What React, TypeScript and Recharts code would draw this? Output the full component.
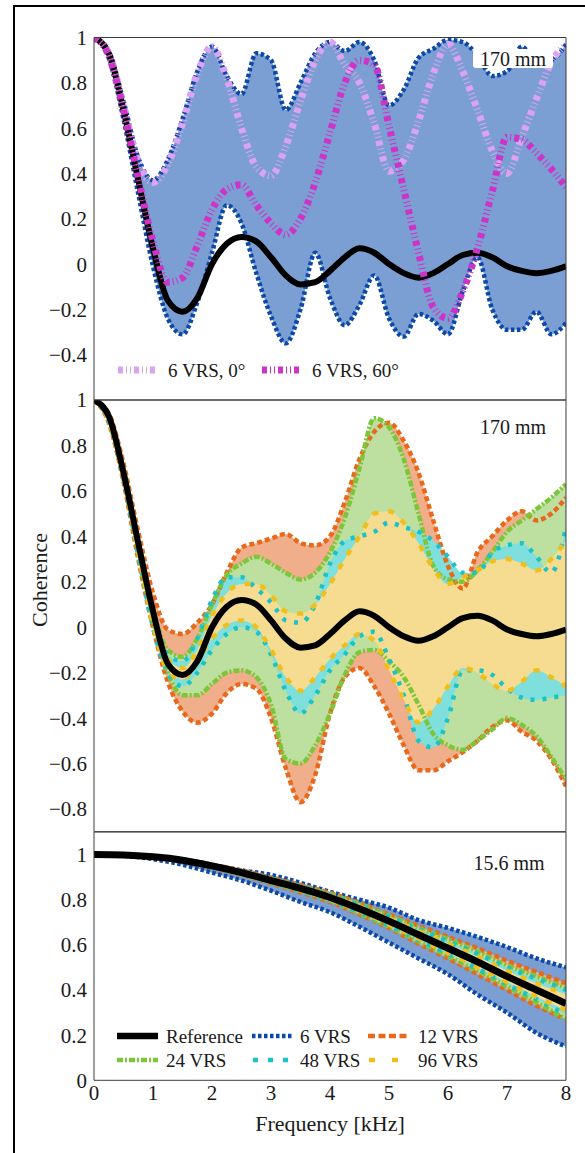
import React from 'react';
import { ComposedChart, Area, Line, XAxis, YAxis } from 'recharts';

// frequency grid (kHz) for the 170 mm panels
const freq = [0, 0.25, 0.5, 0.75, 1, 1.25, 1.5, 1.75, 2, 2.25, 2.5, 2.75, 3, 3.25, 3.5, 3.75, 4, 4.25, 4.5, 4.75, 5, 5.25, 5.5, 5.75, 6, 6.25, 6.5, 6.75, 7, 7.25, 7.5, 7.75, 8];

// 170 mm: reference coherence
const reference = [1.0, 0.93, 0.68, 0.37, 0.07, -0.16, -0.21, -0.15, 0.0, 0.09, 0.12, 0.1, 0.03, -0.05, -0.09, -0.08, -0.03, 0.03, 0.07, 0.05, 0.0, -0.04, -0.06, -0.04, 0.0, 0.04, 0.05, 0.03, -0.01, -0.03, -0.04, -0.03, -0.01];

// top panel: 6 VRS envelope and two orientations
const vrs6Hi = [1.0, 0.94, 0.72, 0.47, 0.37, 0.46, 0.64, 0.85, 0.96, 0.83, 0.75, 0.93, 0.9, 0.68, 0.8, 0.93, 0.98, 0.94, 0.98, 0.9, 0.7, 0.77, 0.91, 0.95, 0.99, 0.98, 0.92, 0.83, 0.85, 0.96, 0.89, 0.9, 0.97];
const vrs6Lo = [1.0, 0.91, 0.64, 0.31, -0.01, -0.24, -0.31, -0.17, 0.05, 0.26, 0.18, -0.04, -0.23, -0.35, -0.2, 0.05, -0.15, -0.27, -0.18, -0.05, -0.24, -0.32, -0.22, -0.25, -0.31, -0.12, 0.03, -0.2, -0.29, -0.29, -0.21, -0.31, -0.26];
const vrs6Deg0 = [1.0, 0.93, 0.7, 0.45, 0.36, 0.44, 0.62, 0.84, 0.96, 0.82, 0.6, 0.43, 0.39, 0.52, 0.72, 0.9, 0.98, 0.88, 0.8, 0.62, 0.41, 0.46, 0.63, 0.84, 0.97, 0.85, 0.68, 0.5, 0.4, 0.56, 0.73, 0.89, 0.97];
const vrs6Deg60 = [1.0, 0.92, 0.68, 0.38, 0.1, -0.08, -0.06, 0.08, 0.24, 0.33, 0.35, 0.26, 0.18, 0.13, 0.2, 0.36, 0.58, 0.8, 0.9, 0.88, 0.61, 0.33, 0.05, -0.19, -0.24, -0.12, 0.07, 0.32, 0.56, 0.55, 0.49, 0.42, 0.34];

// middle panel: envelopes for 12/24/48/96 VRS
const vrs12Hi = [1.0, 0.94, 0.72, 0.42, 0.15, -0.01, -0.03, 0.02, 0.1, 0.24, 0.35, 0.37, 0.39, 0.41, 0.37, 0.36, 0.4, 0.55, 0.74, 0.86, 0.9, 0.82, 0.68, 0.47, 0.27, 0.17, 0.33, 0.4, 0.47, 0.51, 0.47, 0.5, 0.57];
const vrs12Lo = [1.0, 0.9, 0.64, 0.3, 0.0, -0.24, -0.37, -0.42, -0.38, -0.29, -0.25, -0.27, -0.4, -0.62, -0.77, -0.65, -0.38, -0.22, -0.18, -0.26, -0.38, -0.52, -0.63, -0.63, -0.59, -0.55, -0.5, -0.44, -0.41, -0.46, -0.5, -0.58, -0.7];
const vrs24Hi = [1.0, 0.93, 0.7, 0.38, 0.08, -0.1, -0.13, -0.05, 0.1, 0.23, 0.28, 0.31, 0.28, 0.24, 0.21, 0.24, 0.33, 0.48, 0.7, 0.92, 0.88, 0.74, 0.5, 0.27, 0.21, 0.2, 0.25, 0.33, 0.42, 0.47, 0.52, 0.57, 0.63];
const vrs24Lo = [1.0, 0.91, 0.66, 0.32, 0.02, -0.2, -0.3, -0.3, -0.25, -0.2, -0.19, -0.22, -0.34, -0.58, -0.6, -0.52, -0.38, -0.21, -0.11, -0.1, -0.15, -0.22, -0.34, -0.47, -0.52, -0.54, -0.5, -0.45, -0.4, -0.43, -0.48, -0.57, -0.67];
const vrs48Hi = [1.0, 0.93, 0.69, 0.38, 0.06, -0.12, -0.15, -0.05, 0.12, 0.22, 0.22, 0.17, 0.11, 0.03, 0.02, 0.1, 0.28, 0.38, 0.4, 0.42, 0.46, 0.44, 0.42, 0.38, 0.31, 0.24, 0.24, 0.33, 0.36, 0.37, 0.31, 0.24, 0.44];
const vrs48Lo = [1.0, 0.91, 0.65, 0.32, 0.0, -0.2, -0.26, -0.2, -0.1, -0.03, 0.0, -0.02, -0.12, -0.28, -0.38, -0.3, -0.19, -0.12, -0.04, -0.02, -0.14, -0.3, -0.5, -0.53, -0.4, -0.19, -0.19, -0.21, -0.27, -0.31, -0.32, -0.31, -0.3];
const vrs96Hi = [1.0, 0.93, 0.68, 0.36, 0.05, -0.14, -0.18, -0.1, 0.05, 0.15, 0.19, 0.19, 0.14, 0.07, 0.06, 0.1, 0.19, 0.3, 0.4, 0.5, 0.51, 0.46, 0.37, 0.26, 0.19, 0.22, 0.25, 0.29, 0.3, 0.28, 0.25, 0.3, 0.38];
const vrs96Lo = [1.0, 0.91, 0.66, 0.33, 0.01, -0.19, -0.23, -0.15, -0.05, 0.01, 0.03, 0.0, -0.1, -0.22, -0.28, -0.22, -0.14, -0.08, -0.03, -0.06, -0.19, -0.32, -0.42, -0.36, -0.26, -0.18, -0.2, -0.25, -0.28, -0.24, -0.19, -0.22, -0.26];

// bottom panel (15.6 mm)
const freq3 = [0, 0.5, 1, 1.5, 2, 2.5, 3, 3.5, 4, 4.5, 5, 5.5, 6, 6.5, 7, 7.5, 8];
const reference3 = [1.0, 0.998, 0.99, 0.975, 0.95, 0.92, 0.885, 0.85, 0.81, 0.76, 0.705, 0.645, 0.585, 0.525, 0.46, 0.4, 0.34];
const vrs6Hi3 = [1.0, 0.998, 0.99, 0.978, 0.955, 0.93, 0.91, 0.875, 0.835, 0.8, 0.765, 0.71, 0.675, 0.635, 0.59, 0.54, 0.5];
const vrs6Lo3 = [1.0, 0.995, 0.98, 0.955, 0.92, 0.885, 0.84, 0.79, 0.745, 0.68, 0.61, 0.54, 0.47, 0.38, 0.3, 0.21, 0.15];
const vrs12Hi3 = [1.0, 0.998, 0.99, 0.978, 0.955, 0.93, 0.897, 0.865, 0.83, 0.785, 0.735, 0.685, 0.635, 0.585, 0.53, 0.48, 0.43];
const vrs12Lo3 = [1.0, 0.997, 0.988, 0.97, 0.943, 0.91, 0.872, 0.833, 0.79, 0.735, 0.675, 0.605, 0.54, 0.47, 0.4, 0.33, 0.27];
const vrs24Hi3 = [1.0, 0.998, 0.99, 0.977, 0.953, 0.927, 0.893, 0.86, 0.825, 0.78, 0.73, 0.675, 0.625, 0.57, 0.51, 0.46, 0.41];
const vrs24Lo3 = [1.0, 0.997, 0.988, 0.971, 0.945, 0.912, 0.875, 0.838, 0.795, 0.74, 0.68, 0.615, 0.55, 0.485, 0.415, 0.345, 0.27];
const vrs48Hi3 = [1.0, 0.998, 0.99, 0.977, 0.952, 0.925, 0.892, 0.858, 0.82, 0.775, 0.725, 0.67, 0.615, 0.56, 0.5, 0.45, 0.4];
const vrs48Lo3 = [1.0, 0.997, 0.988, 0.972, 0.946, 0.914, 0.877, 0.84, 0.798, 0.745, 0.685, 0.622, 0.56, 0.495, 0.425, 0.36, 0.29];
const vrs96Hi3 = [1.0, 0.998, 0.99, 0.976, 0.952, 0.923, 0.89, 0.855, 0.817, 0.77, 0.718, 0.662, 0.605, 0.548, 0.485, 0.43, 0.38];
const vrs96Lo3 = [1.0, 0.997, 0.989, 0.973, 0.947, 0.916, 0.88, 0.843, 0.802, 0.75, 0.69, 0.628, 0.565, 0.5, 0.435, 0.37, 0.31];

// ticks
const xMinor = [0, 0.5, 1, 1.5, 2, 2.5, 3, 3.5, 4, 4.5, 5, 5.5, 6, 6.5, 7, 7.5, 8];
const xLabels = [0, 1, 2, 3, 4, 5, 6, 7, 8];
const yMinor1 = [-0.6, -0.5, -0.4, -0.3, -0.2, -0.1, 0, 0.1, 0.2, 0.3, 0.4, 0.5, 0.6, 0.7, 0.8, 0.9, 1];
const yLabels1 = [-0.4, -0.2, 0, 0.2, 0.4, 0.6, 0.8, 1];
const yMinor2 = [-0.9, -0.8, -0.7, -0.6, -0.5, -0.4, -0.3, -0.2, -0.1, 0, 0.1, 0.2, 0.3, 0.4, 0.5, 0.6, 0.7, 0.8, 0.9, 1];
const yLabels2 = [-0.8, -0.6, -0.4, -0.2, 0, 0.2, 0.4, 0.6, 0.8, 1];
const yMinor3 = [0, 0.1, 0.2, 0.3, 0.4, 0.5, 0.6, 0.7, 0.8, 0.9, 1, 1.1];
const yLabels3 = [0, 0.2, 0.4, 0.6, 0.8, 1];

const FONT = 'Liberation Serif, Times New Roman, serif';
const TXT = '#1a1a1a';
const AX = '#3c3c3c';

const C = {
  blue: '#0b48a8', blueFill: '#7b9fd2',
  violet: '#dea2f2', magenta: '#cf32c8',
  orange: '#e8691c', orangeFill: '#f0af8a',
  green: '#7cc63a', greenFill: '#bde0a0',
  cyan: '#19c3c7', cyanFill: '#7edfdc',
  yellow: '#f0bf1e', yellowFill: '#f6dc90',
};

const DASH = {
  vrs6: '3.5 2.5', vrs12: '5 3', vrs24: '6 2 2 2', vrs48: '4 8', vrs96: '6 10', angle: '5 3 1 3 1 3',
};

const rows1 = freq.map((f, i) => ({
  f, ref: reference[i], b6: [vrs6Lo[i], vrs6Hi[i]], hi6: vrs6Hi[i], lo6: vrs6Lo[i], d0: vrs6Deg0[i], d60: vrs6Deg60[i],
}));

const rows2 = freq.map((f, i) => ({
  f, ref: reference[i],
  b12: [vrs12Lo[i], vrs12Hi[i]], hi12: vrs12Hi[i], lo12: vrs12Lo[i],
  b24: [vrs24Lo[i], vrs24Hi[i]], hi24: vrs24Hi[i], lo24: vrs24Lo[i],
  b48: [vrs48Lo[i], vrs48Hi[i]], hi48: vrs48Hi[i], lo48: vrs48Lo[i],
  b96: [vrs96Lo[i], vrs96Hi[i]], hi96: vrs96Hi[i], lo96: vrs96Lo[i],
}));

const rows3 = freq3.map((f, i) => ({
  f, ref: reference3[i],
  b6: [vrs6Lo3[i], vrs6Hi3[i]], hi6: vrs6Hi3[i], lo6: vrs6Lo3[i],
  b12: [vrs12Lo3[i], vrs12Hi3[i]], hi12: vrs12Hi3[i], lo12: vrs12Lo3[i],
  b24: [vrs24Lo3[i], vrs24Hi3[i]], hi24: vrs24Hi3[i], lo24: vrs24Lo3[i],
  b48: [vrs48Lo3[i], vrs48Hi3[i]], hi48: vrs48Hi3[i], lo48: vrs48Lo3[i],
  b96: [vrs96Lo3[i], vrs96Hi3[i]], hi96: vrs96Hi3[i], lo96: vrs96Lo3[i],
}));

const fmtY = (v: number) => (v === 0 ? '0' : v === 1 ? '1' : v.toFixed(1).replace('-', '\u2212'));

const band = (key: string, fill: string) => (
  <Area key={key} dataKey={key} xAxisId="x" yAxisId="y" type="monotone" stroke="none" fill={fill} fillOpacity={1} isAnimationActive={false} activeDot={false} />
);

const curve = (key: string, color: string, width: number, dash?: string) => (
  <Line key={key} dataKey={key} xAxisId="x" yAxisId="y" type="monotone" stroke={color} strokeWidth={width} strokeDasharray={dash} dot={false} activeDot={false} isAnimationActive={false} />
);

function Panel({ rows, top, height, mTop, mBottom, domain, yMinor, yLabels, showX, children }: any) {
  const tickStyle = { fontFamily: FONT, fontSize: 21, fill: TXT };
  return (
    <div style={{ position: 'absolute', left: 0, top, width: 585, height }}>
      <ComposedChart width={585} height={height} data={rows} margin={{ top: mTop, right: 19, bottom: showX ? mBottom - 1 : mBottom, left: 93 }}>
        <XAxis xAxisId="x" dataKey="f" type="number" domain={[0, 8]} allowDataOverflow ticks={xMinor} interval={0} mirror height={1} tick={false} tickSize={5} stroke={AX} />
        <XAxis xAxisId="xt" dataKey="f" orientation="top" type="number" domain={[0, 8]} allowDataOverflow ticks={xMinor} interval={0} mirror height={1} tick={false} tickSize={5} stroke={AX} />
        {showX && (
          <XAxis xAxisId="xl" dataKey="f" type="number" domain={[0, 8]} allowDataOverflow ticks={xLabels} interval={0} height={1} axisLine={false} tickLine={false} tickSize={0} tickMargin={5} tick={tickStyle} />
        )}
        <YAxis yAxisId="y" type="number" domain={domain} allowDataOverflow ticks={yMinor} interval={0} mirror width={1} tick={false} tickSize={5} stroke={AX} />
        <YAxis yAxisId="yr" orientation="right" type="number" domain={domain} allowDataOverflow ticks={yMinor} interval={0} mirror width={1} tick={false} tickSize={5} stroke={AX} />
        <YAxis yAxisId="yl" type="number" domain={domain} allowDataOverflow ticks={yLabels} interval={0} width={1} axisLine={false} tickLine={false} tickSize={0} tickMargin={7} tick={tickStyle} tickFormatter={fmtY} />
        {children}
      </ComposedChart>
    </div>
  );
}

const txt = { style: { fontFamily: FONT }, fill: TXT } as const;

export default function App() {
  return (
    <div style={{ position: 'absolute', left: 0, top: 0, width: 585, height: 1153, overflow: 'hidden', background: '#fff' }}>
      <div style={{ position: 'absolute', left: 13, top: 5, width: 700, height: 1300, border: '2.5px solid #000' }} />

      <Panel rows={rows1} top={0} height={402} mTop={37.5} mBottom={2} domain={[-0.6, 1]} yMinor={yMinor1} yLabels={yLabels1}>
        {[
          band('b6', C.blueFill),
          curve('hi6', C.blue, 4.5, DASH.vrs6),
          curve('lo6', C.blue, 4.5, DASH.vrs6),
          curve('ref', '#000', 6),
          curve('d0', C.violet, 7, DASH.angle),
          curve('d60', C.magenta, 7, DASH.angle),
        ]}
      </Panel>

      <Panel rows={rows2} top={380} height={453.7} mTop={20} mBottom={2} domain={[-0.9, 1]} yMinor={yMinor2} yLabels={yLabels2}>
        {[
          band('b12', C.orangeFill),
          band('b24', C.greenFill),
          band('b48', C.cyanFill),
          band('b96', C.yellowFill),
          curve('hi12', C.orange, 4.5, DASH.vrs12),
          curve('lo12', C.orange, 4.5, DASH.vrs12),
          curve('hi24', C.green, 4.5, DASH.vrs24),
          curve('lo24', C.green, 4.5, DASH.vrs24),
          curve('hi48', C.cyan, 4.5, DASH.vrs48),
          curve('lo48', C.cyan, 4.5, DASH.vrs48),
          curve('hi96', C.yellow, 4.5, DASH.vrs96),
          curve('lo96', C.yellow, 4.5, DASH.vrs96),
          curve('ref', '#000', 6),
        ]}
      </Panel>

      <Panel rows={rows3} top={811.7} height={341.3} mTop={20} mBottom={73} domain={[0, 1.1]} yMinor={yMinor3} yLabels={yLabels3} showX>
        {[
          band('b6', C.blueFill),
          band('b12', C.orangeFill),
          band('b24', C.greenFill),
          band('b48', C.cyanFill),
          band('b96', C.yellowFill),
          curve('hi6', C.blue, 4.5, DASH.vrs6),
          curve('lo6', C.blue, 4.5, DASH.vrs6),
          curve('hi12', C.orange, 4.5, DASH.vrs12),
          curve('lo12', C.orange, 4.5, DASH.vrs12),
          curve('hi24', C.green, 4.5, DASH.vrs24),
          curve('lo24', C.green, 4.5, DASH.vrs24),
          curve('hi48', C.cyan, 4.5, DASH.vrs48),
          curve('lo48', C.cyan, 4.5, DASH.vrs48),
          curve('hi96', C.yellow, 4.5, DASH.vrs96),
          curve('lo96', C.yellow, 4.5, DASH.vrs96),
          curve('ref', '#000', 7),
        ]}
      </Panel>

      <svg width={585} height={1153} style={{ position: 'absolute', left: 0, top: 0, pointerEvents: 'none' }}>
        {/* panel annotations */}
        <rect x={473} y={49} width={80} height={19} rx={3} fill="#fff" />
        <text x={513} y={59} textAnchor="middle" dominantBaseline="central" fontSize={20} {...txt}>170 mm</text>
        <text x={513} y={427} textAnchor="middle" dominantBaseline="central" fontSize={20} {...txt}>170 mm</text>
        <text x={509} y={863} textAnchor="middle" dominantBaseline="central" fontSize={20} {...txt}>15.6 mm</text>

        {/* axis titles */}
        <text x={39} y={580} transform="rotate(-90 39 580)" textAnchor="middle" dominantBaseline="central" fontSize={22} {...txt}>Coherence</text>
        <text x={330} y={1123} textAnchor="middle" dominantBaseline="central" fontSize={22} {...txt}>Frequency [kHz]</text>

        {/* top legend */}
        <line x1={118} y1={370} x2={155} y2={370} stroke={C.violet} strokeWidth={7} strokeDasharray={DASH.angle} />
        <text x={168} y={370} dominantBaseline="central" fontSize={19} {...txt}>6 VRS, 0°</text>
        <line x1={262} y1={370} x2={299} y2={370} stroke={C.magenta} strokeWidth={7} strokeDasharray={DASH.angle} />
        <text x={312} y={370} dominantBaseline="central" fontSize={19} {...txt}>6 VRS, 60°</text>

        {/* bottom legend */}
        <line x1={117} y1={1036} x2={158} y2={1036} stroke="#000" strokeWidth={6.5} />
        <text x={166} y={1036} dominantBaseline="central" fontSize={19} {...txt}>Reference</text>
        <line x1={252} y1={1036} x2={293} y2={1036} stroke={C.blue} strokeWidth={4.5} strokeDasharray={DASH.vrs6} />
        <text x={300} y={1036} dominantBaseline="central" fontSize={19} {...txt}>6 VRS</text>
        <line x1={368} y1={1036} x2={410} y2={1036} stroke={C.orange} strokeWidth={4.5} strokeDasharray="7 3.5" />
        <text x={418} y={1036} dominantBaseline="central" fontSize={19} {...txt}>12 VRS</text>

        <line x1={117} y1={1060} x2={158} y2={1060} stroke={C.green} strokeWidth={4.5} strokeDasharray={DASH.vrs24} />
        <text x={166} y={1060} dominantBaseline="central" fontSize={19} {...txt}>24 VRS</text>
        <line x1={253} y1={1060} x2={293} y2={1060} stroke={C.cyan} strokeWidth={4.5} strokeDasharray="5 10" />
        <text x={300} y={1060} dominantBaseline="central" fontSize={19} {...txt}>48 VRS</text>
        <line x1={369} y1={1060} x2={405} y2={1060} stroke={C.yellow} strokeWidth={4.5} strokeDasharray="6 17" />
        <text x={418} y={1060} dominantBaseline="central" fontSize={19} {...txt}>96 VRS</text>
      </svg>
    </div>
  );
}
